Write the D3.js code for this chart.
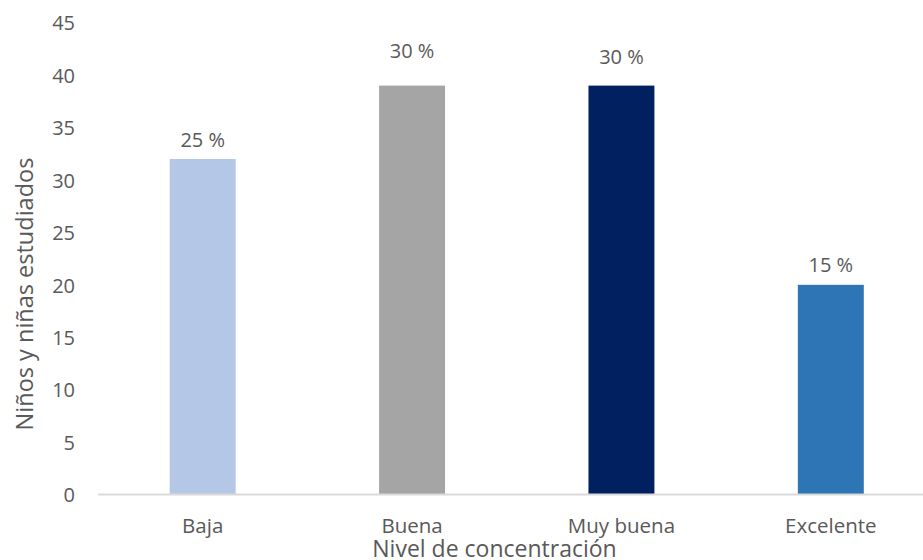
<!DOCTYPE html>
<html>
<head>
<meta charset="utf-8">
<script src="https://cdn.jsdelivr.net/npm/d3@7"></script>
<style>
  html, body { margin: 0; padding: 0; background: #fff; }
  svg { display: block; }
  text { font-family: "Open Sans", "Noto Sans", sans-serif; fill: #595959; }
</style>
</head>
<body>
<svg id="chart" width="923" height="560"></svg>
<script>
// Number of children per concentration level
const categories = ["Baja", "Buena", "Muy buena", "Excelente"];
const counts = [32, 39, 39, 20];
const percentLabels = ["25 %", "30 %", "30 %", "15 %"];
const yTicks = [0, 5, 10, 15, 20, 25, 30, 35, 40, 45];
const barColors = ["#b4c7e7", "#a5a5a5", "#002060", "#2e75b6"];

// Layout: how far each percentage label sits above its bar
const labelLift = [12, 28, 22, 13];

const svg = d3.select("#chart");
const plot = { left: 98, right: 935.5, top: 22.7, bottom: 494.5 };

const x = d3.scaleBand()
  .domain(categories)
  .range([plot.left, plot.right])
  .paddingInner(0.685)
  .paddingOuter(0.3425);

const y = d3.scaleLinear()
  .domain([0, 45])
  .range([plot.bottom, plot.top]);

// Y axis: labels only
const yAxis = svg.append("g")
  .attr("transform", `translate(${plot.left},0)`)
  .call(d3.axisLeft(y).tickValues(yTicks).tickSize(0).tickPadding(23));
yAxis.select(".domain").remove();
yAxis.selectAll("text")
  .attr("dy", "0.36em")
  .style("font-family", '"Open Sans", sans-serif')
  .style("font-size", "20px")
  .attr("fill", "#595959");

// Bars
svg.append("g").selectAll("rect")
  .data(categories)
  .join("rect")
  .attr("x", d => x(d))
  .attr("width", x.bandwidth())
  .attr("y", (d, i) => y(counts[i]))
  .attr("height", (d, i) => y(0) - y(counts[i]))
  .attr("fill", (d, i) => barColors[i]);

// Baseline
svg.append("line")
  .attr("x1", plot.left).attr("x2", plot.right)
  .attr("y1", plot.bottom).attr("y2", plot.bottom)
  .attr("stroke", "#d9d9d9").attr("stroke-width", 2);

// X axis labels
const xAxis = svg.append("g")
  .attr("transform", `translate(0,${plot.bottom})`)
  .call(d3.axisBottom(x).tickSize(0));
xAxis.select(".domain").remove();
xAxis.selectAll("text")
  .attr("y", 38.5).attr("dy", 0)
  .style("font-family", '"Open Sans", sans-serif')
  .style("font-size", "20.5px")
  .attr("fill", "#595959");

// Percentage labels
svg.append("g").selectAll("text")
  .data(categories)
  .join("text")
  .attr("x", d => x(d) + x.bandwidth() / 2)
  .attr("y", (d, i) => y(counts[i]) - labelLift[i])
  .attr("text-anchor", "middle")
  .style("font-size", "20px")
  .text((d, i) => percentLabels[i]);

// Axis titles
svg.append("text")
  .attr("x", 494.5).attr("y", 557)
  .attr("text-anchor", "middle")
  .style("font-size", "23px")
  .text("Nivel de concentración");

svg.append("text")
  .attr("transform", "translate(33,294) rotate(-90)")
  .attr("text-anchor", "middle")
  .style("font-size", "23.5px")
  .text("Niños y niñas estudiados");
</script>
</body>
</html>
